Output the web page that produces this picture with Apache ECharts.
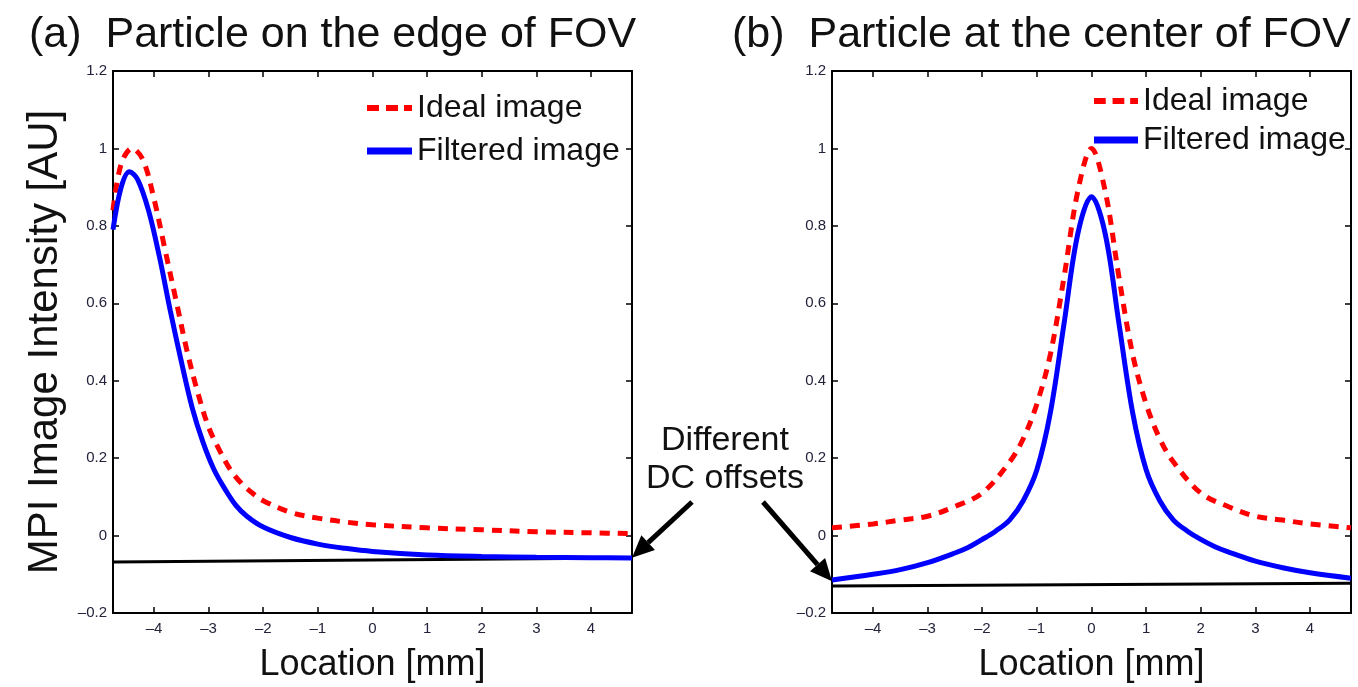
<!DOCTYPE html>
<html>
<head>
<meta charset="utf-8">
<script src="https://cdn.jsdelivr.net/npm/echarts@6/dist/echarts.min.js"></script>
<style>html,body{margin:0;background:#fff}#main{width:1358px;height:687px}</style>
</head>
<body>
<div id="main"></div>
<script>
// panel (a): particle on the edge of the FOV
var xIdealA = [-4.75, -4.6, -4.4, -4.2, -4.0, -3.8, -3.6, -3.4, -3.2, -3.0, -2.8, -2.6, -2.4, -2.2, -2.0, -1.5, -1.0, -0.5, 0, 1, 2, 3, 4, 4.75];
var yIdealA = [0.84, 0.96, 1.0, 0.97, 0.87, 0.74, 0.61, 0.48, 0.37, 0.28, 0.22, 0.17, 0.135, 0.11, 0.09, 0.06, 0.045, 0.035, 0.028, 0.02, 0.015, 0.01, 0.007, 0.005];
var xFiltA = [-4.75, -4.6, -4.45, -4.3, -4.1, -3.9, -3.7, -3.5, -3.3, -3.1, -2.9, -2.7, -2.5, -2.3, -2.0, -1.5, -1.0, -0.5, 0, 1, 2, 3, 4, 4.75];
var yFiltA = [0.79, 0.9, 0.94, 0.92, 0.84, 0.72, 0.58, 0.45, 0.33, 0.24, 0.17, 0.12, 0.078, 0.05, 0.022, -0.005, -0.022, -0.033, -0.041, -0.05, -0.054, -0.056, -0.057, -0.058];
var xOffA = [-4.75, 4.75];
var yOffA = [-0.068, -0.058];

// panel (b): particle at the center of the FOV
var xIdealB = [-4.75, -4, -3.5, -3, -2.5, -2, -1.5, -1.25, -1, -0.75, -0.5, -0.25, 0, 0.25, 0.5, 0.75, 1, 1.25, 1.5, 2, 2.5, 3, 3.5, 4, 4.75];
var yIdealB = [0.02, 0.03, 0.04, 0.05, 0.075, 0.11, 0.19, 0.25, 0.34, 0.47, 0.67, 0.89, 1.0, 0.89, 0.67, 0.47, 0.34, 0.25, 0.19, 0.11, 0.075, 0.05, 0.04, 0.03, 0.02];
var xFiltB = [-4.75, -4, -3.5, -3, -2.5, -2.25, -2, -1.75, -1.5, -1.25, -1, -0.75, -0.5, -0.25, 0, 0.25, 0.5, 0.75, 1, 1.25, 1.5, 1.75, 2, 2.25, 2.5, 3, 3.5, 4, 4.75];
var yFiltB = [-0.115, -0.1, -0.088, -0.07, -0.045, -0.03, -0.01, 0.012, 0.04, 0.09, 0.17, 0.32, 0.55, 0.78, 0.875, 0.78, 0.55, 0.32, 0.17, 0.09, 0.04, 0.012, -0.01, -0.028, -0.042, -0.066, -0.083, -0.096, -0.11];
var xOffB = [-4.75, 4.75];
var yOffB = [-0.13, -0.123];

var xTicks = [-4, -3, -2, -1, 0, 1, 2, 3, 4];
var legendNames = ['Ideal image', 'Filtered image'];

var font = 'Liberation Sans, Arial, sans-serif';

function zip(xs, ys) {
  return xs.map(function (x, i) { return [x, ys[i]]; });
}
function dashLabel(v) {
  var s = String(+(+v).toFixed(1));
  return s.replace('-', '\u2013');
}

var myChart = echarts.init(document.getElementById('main'));

function xAxes(g) {
  return [{
    type: 'value', gridIndex: g, position: 'bottom', min: -4.75, max: 4.75,
    name: 'Location [mm]', nameLocation: 'middle', nameGap: 34,
    nameTextStyle: { fontSize: 36, color: '#111', fontFamily: font },
    axisLine: { onZero: false, lineStyle: { color: '#000', width: 2 } },
    axisTick: { inside: true, length: 6, customValues: xTicks, lineStyle: { color: '#000', width: 1.5 } },
    axisLabel: { customValues: xTicks, formatter: dashLabel, fontSize: 15, color: '#22223a', margin: 8, fontFamily: font },
    splitLine: { show: false }
  }, {
    type: 'value', gridIndex: g, position: 'top', min: -4.75, max: 4.75,
    axisLine: { onZero: false, lineStyle: { color: '#000', width: 2 } },
    axisTick: { inside: true, length: 6, customValues: xTicks, lineStyle: { color: '#000', width: 1.5 } },
    axisLabel: { show: false },
    splitLine: { show: false }
  }];
}
function yAxes(g, withName) {
  var left = {
    type: 'value', gridIndex: g, position: 'left', min: -0.2, max: 1.2, interval: 0.2,
    axisLine: { show: true, onZero: false, lineStyle: { color: '#000', width: 2 } },
    axisTick: { show: true, inside: true, length: 6, lineStyle: { color: '#000', width: 1.5 } },
    axisLabel: { formatter: dashLabel, fontSize: 15, color: '#22223a', margin: 6, fontFamily: font },
    splitLine: { show: false }
  };
  if (withName) {
    left.name = 'MPI Image Intensity [AU]';
    left.nameLocation = 'middle';
    left.nameGap = 47;
    left.nameTextStyle = { fontSize: 42, color: '#111', fontFamily: font };
  }
  return [left, {
    type: 'value', gridIndex: g, position: 'right', min: -0.2, max: 1.2, interval: 0.2,
    axisLine: { show: true, onZero: false, lineStyle: { color: '#000', width: 2 } },
    axisTick: { show: true, inside: true, length: 6, lineStyle: { color: '#000', width: 1.5 } },
    axisLabel: { show: false },
    splitLine: { show: false }
  }];
}

function lines(g, ideal, filt, off) {
  var xi = g * 2, yi = g * 2;
  return [{
    name: 'DC offset', type: 'line', xAxisIndex: xi, yAxisIndex: yi, data: off,
    symbol: 'none', silent: true, lineStyle: { color: '#000', width: 3 }
  }, {
    name: 'Ideal image', type: 'line', xAxisIndex: xi, yAxisIndex: yi, data: ideal,
    symbol: 'none', smooth: 0.35, lineStyle: { color: '#ff0000', width: 5, type: [10, 8] }, itemStyle: { color: '#ff0000' }
  }, {
    name: 'Filtered image', type: 'line', xAxisIndex: xi, yAxisIndex: yi, data: filt,
    symbol: 'none', smooth: 0.35, lineStyle: { color: '#0000ff', width: 5 }, itemStyle: { color: '#0000ff' }
  }];
}

var legendText = { fontSize: 32, color: '#111', fontFamily: font, lineHeight: 34 };
var legendData = [
  { name: legendNames[0], icon: 'path://M0,0h12v6h-12zM19,0h12v6h-12zM37,0h8v6h-8z' },
  { name: legendNames[1], icon: 'rect' }
];

var option = {
  animation: false,
  backgroundColor: '#fff',
  title: [
    { text: '(a)  Particle on the edge of FOV', left: 24, top: 9, textStyle: { fontSize: 43, fontWeight: 'normal', color: '#111', fontFamily: font } },
    { text: '(b)  Particle at the center of FOV', left: 727, top: 9, textStyle: { fontSize: 43, fontWeight: 'normal', color: '#111', fontFamily: font } }
  ],
  legend: [
    { data: legendData, orient: 'vertical', left: 362, top: 86, itemWidth: 45, itemHeight: 7, itemGap: 9, textStyle: legendText },
    { data: legendData, orient: 'vertical', left: 1089, top: 79, itemWidth: 44, itemHeight: 7, itemGap: 5, textStyle: legendText }
  ],
  grid: [
    { left: 113, top: 71, width: 519, height: 542, outerBoundsMode: 'none' },
    { left: 832, top: 71, width: 519, height: 542, outerBoundsMode: 'none' }
  ],
  xAxis: xAxes(0).concat(xAxes(1)),
  yAxis: yAxes(0, true).concat(yAxes(1, false)),
  series: lines(0, zip(xIdealA, yIdealA), zip(xFiltA, yFiltA), zip(xOffA, yOffA))
    .concat(lines(1, zip(xIdealB, yIdealB), zip(xFiltB, yFiltB), zip(xOffB, yOffB)))
};
myChart.setOption(option);

// annotation: "Different DC offsets" with two arrows to the offset lines
function arrow(tail, tip) {
  var dx = tip[0] - tail[0], dy = tip[1] - tail[1];
  var len = Math.sqrt(dx * dx + dy * dy), ux = dx / len, uy = dy / len;
  var hl = 22, hw = 10;
  var bx = tip[0] - ux * hl, by = tip[1] - uy * hl;
  return [{
    type: 'line', shape: { x1: tail[0], y1: tail[1], x2: bx, y2: by },
    style: { stroke: '#000', lineWidth: 5 }
  }, {
    type: 'polygon', shape: { points: [tip, [bx - uy * hw, by + ux * hw], [bx + uy * hw, by - ux * hw]] },
    style: { fill: '#000' }
  }];
}
var tipA = myChart.convertToPixel({ xAxisIndex: 0, yAxisIndex: 0 }, [4.75, -0.057]);
var tipB = myChart.convertToPixel({ xAxisIndex: 2, yAxisIndex: 2 }, [-4.75, -0.118]);
myChart.setOption({
  graphic: [{
    type: 'text', x: 725, y: 422, style: {
      text: 'Different\nDC offsets', align: 'center',
      font: '34px ' + font, fill: '#111', lineHeight: 38
    }
  }].concat(arrow([692, 502], tipA), arrow([763, 502], tipB))
});
</script>
</body>
</html>
